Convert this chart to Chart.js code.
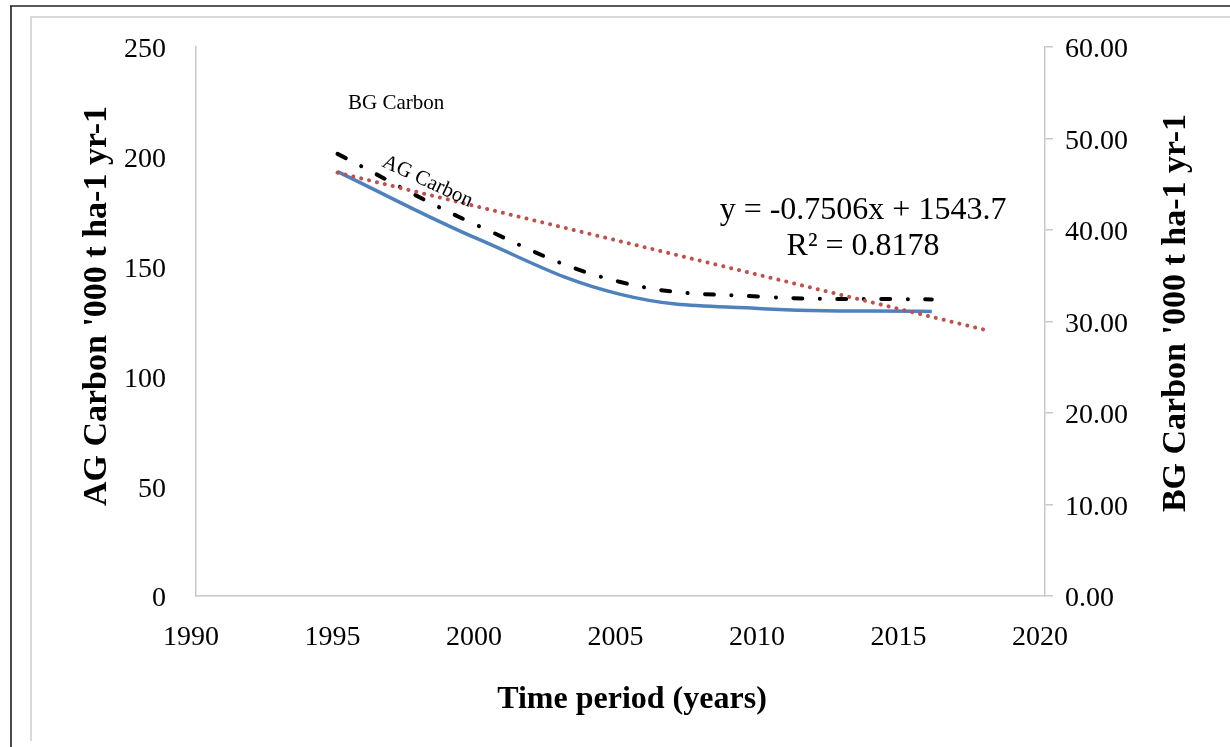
<!DOCTYPE html>
<html><head><meta charset="utf-8">
<script src="https://cdn.jsdelivr.net/npm/chart.js@4.4.0/dist/chart.umd.min.js"></script>
<style>html,body{margin:0;padding:0;background:#fff;}#wrap{position:relative;width:1230px;height:747px;}</style>
</head><body><div id="wrap"><canvas id="c" width="1230" height="747"></canvas></div>
<script>
// ---- data ----
const years = [1995, 2000, 2005, 2010, 2016];
const agCarbon = [193.2, 162.3, 137.3, 130.8, 129.5];   // left axis
const bgCarbon = [48.3, 40.4, 34.3, 32.7, 32.4];        // right axis
const trendYears = [1995, 2018];
const bgTrend = [46.25, 28.99];                          // linear trend of BG carbon
const xRange = [1990, 2020];
const agRange = [0, 250];
const bgRange = [0, 60];
const xTitle = 'Time period (years)';
const agTitle = "AG Carbon '000 t ha-1 yr-1";
const bgTitle = "BG Carbon '000 t ha-1 yr-1";
const eqLine1 = 'y = -0.7506x + 1543.7';
const eqLine2 = 'R\u00B2 = 0.8178';

const FONT = "'Liberation Serif', 'Times New Roman', serif";
const toXY = (xs, ys) => xs.map((x, i) => ({x: x, y: ys[i]}));

const decor = {
  id: 'decor',
  beforeDraw(chart) {
    const ctx = chart.ctx;
    ctx.save();
    ctx.fillStyle = '#fff';
    ctx.fillRect(0, 0, chart.width, chart.height);
    ctx.strokeStyle = '#d9d9d9'; ctx.lineWidth = 2;
    ctx.beginPath(); ctx.moveTo(31, 741); ctx.lineTo(31, 17); ctx.lineTo(1230, 17); ctx.stroke();
    ctx.strokeStyle = '#4a4a4a'; ctx.lineWidth = 2;
    ctx.beginPath(); ctx.moveTo(11, 747); ctx.lineTo(11, 6); ctx.stroke();
    ctx.strokeStyle = '#222'; ctx.lineWidth = 1.5;
    ctx.beginPath(); ctx.moveTo(10, 6); ctx.lineTo(1230, 6); ctx.stroke();
    ctx.restore();
  },
  afterDraw(chart) {
    const ctx = chart.ctx;
    const xs = chart.scales.x, ys = chart.scales.yAG;
    ctx.save();
    ctx.fillStyle = '#000';
    // axis titles
    ctx.textAlign = 'center'; ctx.textBaseline = 'middle';
    ctx.font = 'bold 32px ' + FONT;
    ctx.fillText(xTitle, 632, 700);
    ctx.font = 'bold 34px ' + FONT;
    ctx.save(); ctx.translate(97, 306); ctx.rotate(-Math.PI / 2); ctx.fillText(agTitle, 0, 0); ctx.restore();
    ctx.save(); ctx.translate(1176, 313); ctx.rotate(-Math.PI / 2); ctx.fillText(bgTitle, 0, 0); ctx.restore();
    // in-plot labels (anchored in data coordinates)
    ctx.textBaseline = 'alphabetic';
    ctx.font = '21px ' + FONT;
    ctx.fillText('BG Carbon', xs.getPixelForValue(1997.07), ys.getPixelForValue(221.5));
    ctx.save();
    ctx.translate(xs.getPixelForValue(1998.1), ys.getPixelForValue(186.4));
    ctx.rotate(25 * Math.PI / 180);
    ctx.fillText('AG Carbon', 0, 0);
    ctx.restore();
    ctx.font = '32px ' + FONT;
    ctx.fillText(eqLine1, xs.getPixelForValue(2013.57), ys.getPixelForValue(171.8));
    ctx.fillText(eqLine2, xs.getPixelForValue(2013.57), ys.getPixelForValue(155.0));
    ctx.restore();
  }
};

new Chart(document.getElementById('c'), {
  type: 'line',
  data: {
    datasets: [
      { label: 'Linear (BG Carbon)', data: toXY(trendYears, bgTrend), yAxisID: 'yBG',
        borderColor: '#C0504D', borderWidth: 4, borderDash: [0.1, 8], borderCapStyle: 'round',
        pointRadius: 0, tension: 0, fill: false },
      { label: 'BG Carbon', data: toXY(years, bgCarbon), yAxisID: 'yBG',
        borderColor: '#000', borderWidth: 4, borderDash: [9, 17.5, 0.1, 17.5], borderCapStyle: 'round',
        pointRadius: 0, tension: 0.4, fill: false },
      { label: 'AG Carbon', data: toXY(years, agCarbon), yAxisID: 'yAG',
        borderColor: '#4F81BD', borderWidth: 3.5, borderCapStyle: 'butt',
        pointRadius: 0, tension: 0.4, fill: false }
    ]
  },
  options: {
    responsive: false, animation: false, devicePixelRatio: 1,
    layout: { padding: { top: 46, left: 0, right: 0, bottom: 0 } },
    plugins: { legend: { display: false }, tooltip: { enabled: false } },
    scales: {
      x: {
        type: 'linear', position: 'bottom', min: xRange[0], max: xRange[1],
        afterFit: s => { s.height = 151; },
        grid: { display: false, drawTicks: false },
        border: { display: true, color: '#c8c8c8', width: 1.5 },
        ticks: { stepSize: 5, padding: 25, labelOffset: -5, color: '#000', font: { family: FONT, size: 28 },
                 callback: v => String(v), maxRotation: 0, autoSkip: false }
      },
      yAG: {
        type: 'linear', position: 'left', min: agRange[0], max: agRange[1],
        afterFit: s => { s.width = 196; },
        grid: { display: false, drawTicks: false },
        border: { display: true, color: '#c8c8c8', width: 1.5 },
        ticks: { stepSize: 50, padding: 30, labelOffset: 3, color: '#000', font: { family: FONT, size: 28 } }
      },
      yBG: {
        type: 'linear', position: 'right', min: bgRange[0], max: bgRange[1],
        afterFit: s => { s.width = 185; },
        grid: { display: true, drawOnChartArea: false, drawTicks: true, tickLength: 8, color: '#c8c8c8', lineWidth: 1.5 },
        border: { display: true, color: '#c8c8c8', width: 1.5 },
        ticks: { stepSize: 10, padding: 12, labelOffset: 3, color: '#000', font: { family: FONT, size: 28 },
                 callback: v => Number(v).toFixed(2) }
      }
    }
  },
  plugins: [decor]
});
</script></body></html>
